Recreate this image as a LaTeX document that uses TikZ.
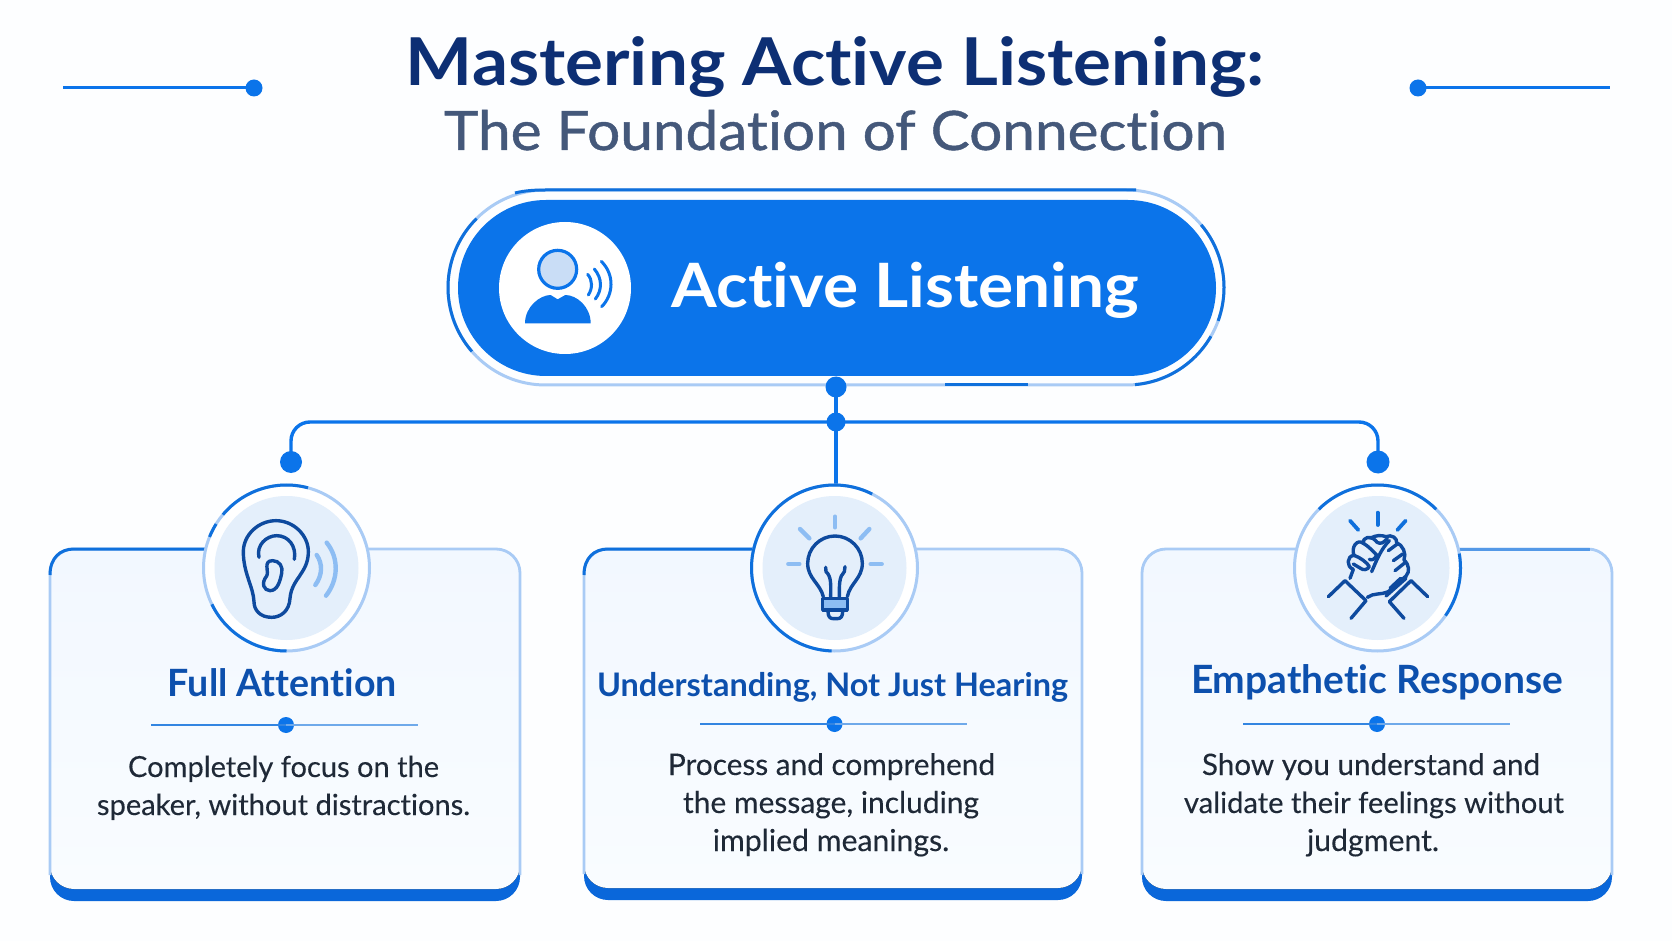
\documentclass[tikz,border=0pt]{standalone}
\usepackage{fontspec}
\usepackage{graphicx}
\setmainfont{Lato}[Ligatures=CommonOff]
\newfontfamily\subfont{Lato}[Ligatures=CommonOff,FakeBold=0.8]
\newfontfamily\bodyfont{Lato}[Ligatures=CommonOff,FakeBold=0.2]
\definecolor{bgc}{HTML}{FDFEFF}
\definecolor{cardtop}{HTML}{F2F8FF}
\definecolor{cardbot}{HTML}{F9FCFF}
\definecolor{mainblue}{HTML}{0B74EA}
\definecolor{darkline}{HTML}{0F70DC}
\definecolor{lightline}{HTML}{A9CBF5}
\definecolor{barblue}{HTML}{0A67DA}
\definecolor{titlenavy}{HTML}{0D2F74}
\definecolor{subgrey}{HTML}{44587A}
\definecolor{cardtitle}{HTML}{0D50AD}
\definecolor{bodytext}{HTML}{1F2937}
\definecolor{iconnavy}{HTML}{0E4A9E}
\definecolor{iconlight}{HTML}{8DBDF3}
\definecolor{discblue}{HTML}{E4EFFB}
\definecolor{headfill}{HTML}{C9DDF6}
\newcommand{\fitw}[2]{\resizebox{#1pt}{!}{#2}}
\newcommand{\fith}[2]{\scalebox{1}[0.93]{\resizebox{#1pt}{!}{#2}}}
\newcommand{\seg}[6]{\draw[#6,line width=1.5pt] plot[domain=#4:#5,samples=48,smooth] ({#1+#3*cos(\x)},{#2-#3*sin(\x)});}
% left, right, face bottom, bar bottom
\newcommand{\cardbox}[4]{
  \fill[barblue,rounded corners=12pt] (#1,840) rectangle (#2,#4);
  \fill[top color=cardtop,bottom color=cardbot,rounded corners=12pt] (#1,549) rectangle (#2,#3);
  \draw[lightline,line width=1.4pt,rounded corners=12pt] (#1,#3-14) -- (#1,549) -- (#2,549) -- (#2,#3-14);
}
\tikzset{
  txt/.style={inner sep=0pt,outer sep=0pt,anchor=base},
  dotn/.style={circle,fill=mainblue,draw=none,inner sep=0pt,minimum size=#1*0.5pt},
  conn/.style={draw=mainblue,line width=1.7pt},
  icon/.style={draw=iconnavy,line width=1.7pt,line cap=round,line join=round},
  lightstroke/.style={draw=iconlight,line width=2.2pt,line cap=round},
  ttl/.style={txt,text=cardtitle},
  bdy/.style={txt,text=bodytext},
}
\begin{document}
\begin{tikzpicture}[x=0.5pt,y=-0.5pt]
\useasboundingbox (0,0) rectangle (1672,941);
\fill[bgc] (0,0) rectangle (1672,941);

% header
\node[txt,text=titlenavy] (title) at (835.5,86) {\fith{429.5}{\bfseries Mastering Active Listening:}};
\node[txt,text=subgrey] (subtitle) at (835.5,150) {\fith{391.5}{\subfont The Foundation of Connection}};
\node[dotn=17] (tl) at (254,88) {};
\node[dotn=17] (tr) at (1418,88) {};
\coordinate (tlend) at (63,88);
\coordinate (trend) at (1610,88);
\draw[conn,line width=1.5pt] (tlend) -- (tl.center);
\draw[conn,line width=1.5pt] (tr.center) -- (trend);

% pill ring
\draw[lightline,line width=1.5pt,rounded corners=48.75pt] (448,190) rectangle (1224,385);
\draw[darkline,line width=1.5pt] (515,193) .. controls (525,190.5) and (535,190) .. (545.5,190) -- (1136,190);
\draw[darkline,line width=1.5pt] (945,385) -- (1028,385);
\seg{545.5}{287.5}{97.5}{135}{221}{darkline}
\seg{1126.5}{287.5}{97.5}{40}{-20}{darkline}
\seg{1126.5}{287.5}{97.5}{-30}{-85}{darkline}
% pill
\fill[mainblue,rounded corners=44pt] (458,200) rectangle (1216,376);
\node[circle,fill=white,inner sep=0pt,minimum size=66pt] (pillicon) at (565,288) {};
\node[txt,text=white] (pilltext) at (905.5,308) {\fith{233.5}{\bfseries Active Listening}};
\begin{scope}[shift={(440,180)},x=0.16667pt,y=-0.16667pt]
  \draw[fill=headfill,draw=mainblue,line width=1.6pt] (353,268) circle[radius=57];
  \fill[mainblue] (255,430) .. controls (255,380) and (300,345) .. (332,345) -- (353,358) -- (376,345) .. controls (410,345) and (452,380) .. (452,430) -- cycle;
  \draw[mainblue,line width=1.5pt,line cap=round] (443,283) .. controls (458,300) and (458,325) .. (445,345);
  \draw[mainblue,line width=1.5pt,line cap=round] (463,267) .. controls (487,295) and (487,330) .. (466,357);
  \draw[mainblue,line width=1.5pt,line cap=round] (484,244) .. controls (525,285) and (520,345) .. (485,380);
\end{scope}

% cards
\cardbox{50}{520}{889}{901}
\cardbox{584}{1082}{888}{900}
\cardbox{1142}{1612}{889}{901}
% dark parts of the card tops
\draw[darkline,line width=1.5pt] (50,575) .. controls (50,558) and (60,549) .. (74,549) -- (210,549);
\draw[darkline,line width=1.5pt] (584,575) .. controls (584,558) and (594,549) .. (608,549) -- (755,549);
\draw[darkline!55!lightline,line width=1.5pt] (1460,549) -- (1590,549);

% connectors
\node[dotn=21] (pillbottom) at (836,387) {};
\node[dotn=19] (hub) at (836,422) {};
\node[dotn=22] (dl) at (291,462) {};
\node[dotn=23] (dr) at (1378,462) {};
\coordinate (c2) at (836,484);
\draw[conn] (pillbottom.center) -- (hub.center);
\draw[conn] (hub.center) -- (c2);
\draw[conn,rounded corners=9.5pt] (hub.center) -| (dl.center);
\draw[conn,rounded corners=9.5pt] (hub.center) -| (dr.center);

% icon discs
\foreach \n/\cx in {a/286.5,b/834.5,c/1377.5}{
  \node[circle,fill=white,inner sep=0pt,minimum size=83.5pt] (disc\n) at (\cx,568) {};
  \node[circle,fill=discblue,inner sep=0pt,minimum size=72pt] (inner\n) at (\cx,568) {};
  \draw[lightline,line width=1.5pt] (\cx,568) circle[radius=83];
}
\seg{286.5}{568}{83}{75}{140}{darkline}
\seg{286.5}{568}{83}{148}{158}{darkline}
\seg{286.5}{568}{83}{206}{270}{darkline}
\seg{834.5}{568}{83}{63}{268}{darkline}
\seg{1377.5}{568}{83}{45}{135}{darkline}
\seg{1377.5}{568}{83}{-35}{10}{darkline}

% ear
\begin{scope}[shift={(190,470)},x=0.16667pt,y=-0.16667pt]
  \draw[icon] (258,152) .. controls (310,152) and (355,195) .. (355,245) .. controls (355,310) and (305,325) .. (300,385) .. controls (298,425) and (270,442) .. (245,442) .. controls (210,442) and (192,420) .. (192,395) .. controls (190,350) and (160,310) .. (160,245) .. controls (160,195) and (205,152) .. (258,152) -- cycle;
  \draw[icon] (207,262) .. controls (198,225) and (230,197) .. (260,197) .. controls (295,197) and (320,228) .. (313,268);
  \draw[icon] (248,272) .. controls (268,272) and (280,290) .. (275,310) .. controls (270,335) and (262,362) .. (240,362) .. controls (222,362) and (212,340) .. (230,318) .. controls (238,305) and (218,272) .. (248,272) -- cycle;
  \draw[lightstroke] (380,255) .. controls (398,280) and (398,315) .. (376,345);
  \draw[lightstroke] (410,218) .. controls (448,265) and (445,330) .. (408,377);
\end{scope}

% bulb
\begin{scope}[shift={(740,470)},x=0.16667pt,y=-0.16667pt]
  \draw[icon] (250,380) .. controls (240,340) and (203,325) .. (203,280) .. controls (203,235) and (240,198) .. (285,198) .. controls (330,198) and (367,235) .. (367,280) .. controls (367,325) and (330,340) .. (322,380);
  \draw[icon,fill=iconlight] (248,385) rectangle (322,420);
  \draw[icon] (264,424) .. controls (264,440) and (270,446) .. (280,446) -- (292,446) .. controls (302,446) and (308,440) .. (308,424);
  \draw[icon] (257,292) -- (258,305) .. controls (275,320) and (272,345) .. (272,380);
  \draw[icon] (315,290) -- (313,305) .. controls (297,320) and (298,345) .. (298,380);
  \draw[lightstroke] (285,140) -- (285,172);
  \draw[lightstroke] (180,177) -- (208,205);
  \draw[lightstroke] (388,177) -- (362,205);
  \draw[lightstroke] (145,282) -- (178,282);
  \draw[lightstroke] (392,282) -- (425,282);
\end{scope}

% handshake
\begin{scope}[shift={(1280,470)},x=0.16667pt,y=-0.16667pt]
  \draw[darkline,line width=1.9pt,line cap=round] (293,128) -- (293,165);
  \draw[darkline,line width=1.9pt,line cap=round] (210,152) -- (235,180);
  \draw[darkline,line width=1.9pt,line cap=round] (377,152) -- (352,180);
  \draw[icon] (145,380) -- (195,332) -- (258,392) -- (213,445);
  \draw[icon] (443,380) -- (393,332) -- (328,395) -- (372,445);
  \draw[icon] (378,325) -- (318,378);
  \draw[icon] (362,325) -- (330,355);
  % left fist
  \draw[icon] (210,325) -- (220,298) .. controls (198,290) and (200,258) .. (222,256) .. controls (212,232) and (232,205) .. (250,220) .. controls (245,202) and (275,195) .. (285,210);
  \draw[icon] (222,256) .. controls (240,262) and (262,278) .. (268,290) .. controls (262,300) and (250,302) .. (240,294) -- (220,282);
  \draw[icon] (250,220) .. controls (265,228) and (280,245) .. (290,255) .. controls (285,268) and (275,272) .. (268,268);
  % thumb and right hand
  \draw[icon] (285,210) .. controls (292,222) and (305,222) .. (312,215) -- (322,206);
  \draw[icon] (272,205) .. controls (285,195) and (305,195) .. (318,200) .. controls (335,192) and (352,205) .. (350,218) .. controls (368,225) and (380,250) .. (372,270) .. controls (388,285) and (390,305) .. (378,318) -- (325,365) .. controls (305,375) and (280,368) .. (262,382);
  \draw[icon] (328,212) .. controls (305,235) and (292,265) .. (275,305);
  \draw[icon] (325,242) -- (352,222);
  \draw[icon] (340,272) -- (368,252);
  \draw[icon] (345,302) -- (375,278);
\end{scope}

% card titles
\node[ttl] (t1) at (282.5,696) {\fitw{114.5}{\bfseries Full Attention}};
\node[ttl] (t2) at (832.5,696) {\fitw{235.5}{\bfseries Understanding, Not Just Hearing}};
\node[ttl] (t3) at (1377,693) {\fitw{186}{\bfseries Empathetic Response}};

% dividers
\foreach \n/\xa/\xb/\xc/\yy in {1/151/286/418/725,2/700/834.5/967/724,3/1243/1377/1510/724}{
  \node[dotn=16] (dv\n) at (\xb,\yy) {};
  \coordinate (dva\n) at (\xa,\yy);
  \coordinate (dvb\n) at (\xc,\yy);
  \draw[darkline!85!white,line width=0.9pt] (dva\n) -- (dv\n.center);
  \draw[darkline!60!white,line width=0.9pt] (dv\n.center) -- (dvb\n);
}

% bodies
\node[bdy] (b11) at (283.5,777) {\fitw{155.5}{\bodyfont Completely focus on the}};
\node[bdy] (b12) at (283.5,815) {\fitw{186.5}{\bodyfont speaker, without distractions.}};
\node[bdy] (b21) at (831.5,775) {\fitw{163.5}{\bodyfont Process and comprehend}};
\node[bdy] (b22) at (831,813) {\fitw{148}{\bodyfont the message, including}};
\node[bdy] (b23) at (831,851) {\fitw{118.25}{\bodyfont implied meanings.}};
\node[bdy] (b31) at (1371,775) {\fitw{169}{\bodyfont Show you understand and}};
\node[bdy] (b32) at (1374,813) {\fitw{190}{\bodyfont validate their feelings without}};
\node[bdy] (b33) at (1373,851) {\fitw{66}{\bodyfont judgment.}};
\end{tikzpicture}
\end{document}
